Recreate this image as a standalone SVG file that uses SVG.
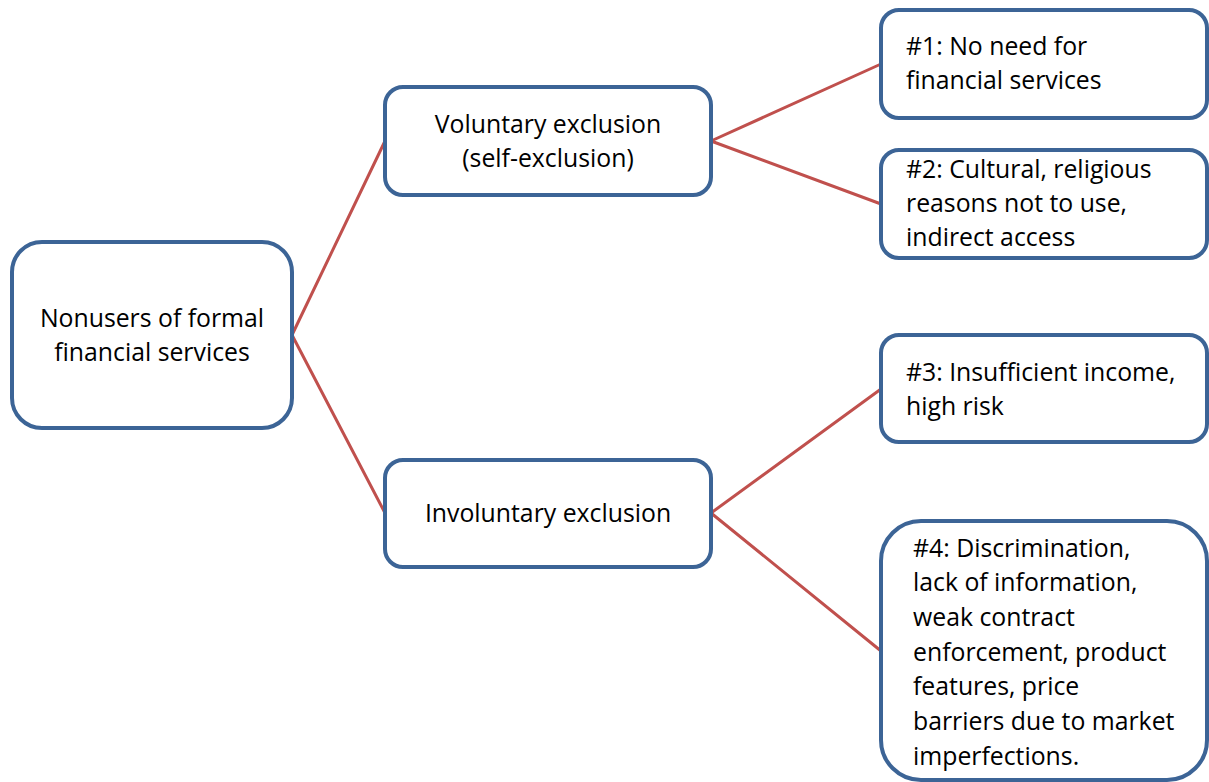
<svg xmlns="http://www.w3.org/2000/svg" width="1209" height="782" viewBox="0 0 1209 782">
<style>
.box{fill:#fff;stroke:#3C6496;stroke-width:4}
.t{font-family:"Open Sans","Liberation Sans",sans-serif;font-size:24.8px;fill:#000}
.c{text-anchor:middle}
.conn line{stroke:#C0504D;stroke-width:3;stroke-linecap:round}
</style>
<rect width="1209" height="782" fill="#fff"/>
<g class="conn" id="connectors">
<line x1="292" y1="335" x2="385" y2="141"/>
<line x1="292" y1="335" x2="385" y2="513"/>
<line x1="711" y1="141" x2="881" y2="64"/>
<line x1="711" y1="141" x2="881" y2="204"/>
<line x1="711" y1="513" x2="881" y2="389"/>
<line x1="711" y1="513" x2="881" y2="651"/>
</g>
<g id="root">
<rect class="box" x="12" y="242" width="280" height="186" rx="30"/>
<text class="t c" x="152" y="327">Nonusers of formal</text>
<text class="t c" x="152" y="361">financial services</text>
</g>
<g id="voluntary">
<rect class="box" x="385" y="87" width="326" height="108" rx="18"/>
<text class="t c" x="548" y="133">Voluntary exclusion</text>
<text class="t c" x="548" y="167">(self-exclusion)</text>
</g>
<g id="involuntary">
<rect class="box" x="385" y="460" width="326" height="107" rx="18"/>
<text class="t c" x="548" y="522">Involuntary exclusion</text>
</g>
<g id="r1">
<rect class="box" x="881" y="10" width="326" height="108" rx="18"/>
<text class="t" x="906" y="55">#1: No need for</text>
<text class="t" x="906" y="89">financial services</text>
</g>
<g id="r2">
<rect class="box" x="881" y="150" width="326" height="108" rx="18"/>
<text class="t" x="906" y="178">#2: Cultural, religious</text>
<text class="t" x="906" y="212">reasons not to use,</text>
<text class="t" x="906" y="246">indirect access</text>
</g>
<g id="r3">
<rect class="box" x="881" y="335" width="326" height="107" rx="18"/>
<text class="t" x="906" y="381">#3: Insufficient income,</text>
<text class="t" x="906" y="415">high risk</text>
</g>
<g id="r4">
<rect class="box" x="881" y="521" width="326" height="259" rx="40"/>
<text class="t" x="913" y="557">#4: Discrimination,</text>
<text class="t" x="913" y="591">lack of information,</text>
<text class="t" x="913" y="626">weak contract</text>
<text class="t" x="913" y="661">enforcement, product</text>
<text class="t" x="913" y="695">features, price</text>
<text class="t" x="913" y="730">barriers due to market</text>
<text class="t" x="913" y="765">imperfections.</text>
</g>
</svg>
